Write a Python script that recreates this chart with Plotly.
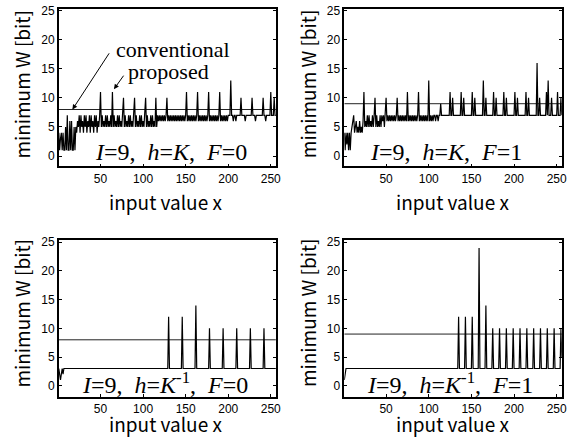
import plotly.graph_objects as go

# ---------------- data ----------------
# Panel (a): I=9, h=K, F=0  -- proposed minimum W for x = 1..256
w_hK_F0 = [
    4, 1, 3, 4, 1, 4, 1, 1, 5, 1, 7, 1, 1, 6, 1, 6,
    1, 1, 5, 1, 5, 4, 6, 5, 7, 4, 7, 5, 6, 4, 7, 5,
    7, 4, 6, 5, 7, 4, 7, 5, 6, 4, 7, 5, 7, 4, 6, 5,
    7, 11, 5, 7, 5, 6, 5, 7, 5, 7, 5, 6, 5, 7, 5, 11,
    5, 7, 5, 6, 5, 7, 5, 7, 5, 6, 5, 7, 10, 5, 7, 5,
    6, 5, 7, 5, 7, 5, 6, 5, 7, 10, 5, 7, 5, 6, 5, 7,
    5, 7, 5, 6, 5, 7, 10, 5, 7, 5, 6, 5, 7, 5, 7, 5,
    6, 5, 10, 5, 7, 6, 7, 6, 7, 6, 7, 6, 7, 6, 7, 10,
    6, 7, 6, 7, 6, 7, 6, 7, 6, 7, 6, 7, 6, 7, 6, 7,
    6, 7, 6, 7, 6, 7, 11, 6, 7, 6, 7, 6, 7, 6, 7, 6,
    7, 6, 7, 11, 6, 7, 6, 7, 6, 7, 6, 7, 6, 7, 6, 7,
    11, 6, 7, 6, 7, 6, 7, 6, 7, 6, 7, 6, 7, 11, 6, 7,
    6, 7, 6, 7, 6, 7, 6, 7, 7, 7, 13, 7, 7, 6, 7, 7,
    6, 7, 7, 7, 7, 7, 10, 7, 7, 7, 7, 6, 7, 7, 7, 7,
    7, 7, 7, 10, 7, 7, 7, 6, 7, 7, 7, 7, 7, 7, 7, 7,
    10, 7, 7, 6, 7, 7, 7, 7, 7, 11, 7, 7, 7, 10, 7, 7,
]

# Panel (b): I=9, h=K, F=1
w_hK_F1 = [
    4, 1, 4, 2, 4, 1, 4, 1, 4, 5, 6, 7, 4, 5, 6, 4,
    5, 4, 6, 4, 5, 4, 6, 11, 5, 6, 5, 7, 5, 7, 5, 6,
    5, 7, 5, 7, 10, 5, 7, 5, 6, 5, 7, 5, 7, 6, 7, 5,
    7, 10, 6, 7, 6, 7, 6, 7, 6, 7, 6, 7, 6, 7, 10, 6,
    7, 6, 7, 6, 7, 6, 7, 6, 7, 6, 11, 6, 7, 6, 7, 6,
    7, 6, 7, 6, 7, 6, 7, 11, 6, 7, 6, 7, 6, 7, 6, 7,
    6, 7, 6, 13, 6, 7, 6, 7, 6, 7, 7, 6, 7, 7, 6, 7,
    7, 9, 7, 7, 7, 7, 7, 7, 7, 7, 7, 7, 11, 7, 7, 10,
    7, 7, 7, 7, 7, 7, 7, 7, 7, 11, 7, 7, 10, 7, 7, 7,
    7, 7, 7, 7, 7, 7, 11, 7, 7, 10, 7, 7, 7, 7, 7, 7,
    7, 7, 7, 13, 7, 7, 10, 7, 7, 7, 7, 7, 7, 7, 7, 11,
    7, 7, 10, 7, 7, 7, 7, 7, 7, 7, 7, 11, 7, 7, 10, 7,
    7, 7, 7, 7, 7, 7, 7, 7, 11, 7, 7, 10, 7, 7, 7, 7,
    7, 7, 7, 7, 7, 11, 7, 7, 10, 7, 7, 7, 7, 7, 7, 7,
    7, 7, 16, 7, 7, 10, 7, 7, 7, 7, 7, 7, 7, 11, 7, 13,
    7, 7, 7, 10, 7, 7, 7, 7, 7, 7, 11, 7, 7, 7, 10, 7,
]

# Panel (c): I=9, h=K^-1, F=0  (breakpoints of the polyline)
x_hKi_F0 = [1, 2, 3, 4, 5, 6, 7,
            129, 130, 131, 145, 146, 147, 161, 162, 163, 177, 178, 179,
            193, 194, 195, 209, 210, 211, 225, 226, 227, 241, 242, 243, 256]
w_hKi_F0 = [3, 2, 1, 2, 3, 2, 3,
            3, 12, 3, 3, 12, 3, 3, 14, 3, 3, 10, 3,
            3, 10, 3, 3, 10, 3, 3, 10, 3, 3, 10, 3, 3]

# Panel (d): I=9, h=K^-1, F=1  (breakpoints of the polyline)
x_hKi_F1 = [1, 2, 3,
            134, 135, 136, 142, 143, 144, 150, 151, 152, 158, 159, 160,
            166, 167, 168, 174, 175, 176, 182, 183, 184, 190, 191, 192,
            198, 199, 200, 206, 207, 208, 214, 215, 216, 222, 223, 224,
            230, 231, 232, 238, 239, 240, 246, 247, 248, 254, 255, 256]
w_hKi_F1 = [1, 2, 3,
            3, 12, 3, 3, 12, 3, 3, 12, 3, 3, 24, 3,
            3, 14, 3, 3, 10, 3, 3, 10, 3, 3, 10, 3,
            3, 10, 3, 3, 10, 3, 3, 10, 3, 3, 10, 3,
            3, 10, 3, 3, 10, 3, 3, 10, 3, 3, 10, 5]

# conventional (constant) minimum W
conv_F0 = 8
conv_F1 = 9

x_full = list(range(1, 257))
x_range = [1, 256]
x_ticks = [50, 100, 150, 200, 250]
y_ticks = [0, 5, 10, 15, 20, 25]

panel_labels = [
    "<i>I</i>=9,\u00a0\u00a0<i>h</i>=<i>K</i>,\u00a0\u00a0<i>F</i>=0",
    "<i>I</i>=9,\u00a0\u00a0<i>h</i>=<i>K</i>,\u00a0\u00a0<i>F</i>=1",
    "<i>I</i>=9,\u00a0\u00a0<i>h</i>=<i>K</i><sup>-1</sup>,\u00a0\u00a0<i>F</i>=0",
    "<i>I</i>=9,\u00a0\u00a0<i>h</i>=<i>K</i><sup>-1</sup>,\u00a0\u00a0<i>F</i>=1",
]

W, H = 579, 448

# ---------------- figure ----------------
fig = go.Figure()

panels = [
    (x_full, w_hK_F0, conv_F0, "x", "y"),
    (x_full, w_hK_F1, conv_F1, "x2", "y2"),
    (x_hKi_F0, w_hKi_F0, conv_F0, "x3", "y3"),
    (x_hKi_F1, w_hKi_F1, conv_F1, "x4", "y4"),
]
for xs, ys, conv, xa, ya in panels:
    fig.add_trace(go.Scatter(x=x_range, y=[conv, conv], mode="lines",
                             line=dict(color="#222222", width=1),
                             xaxis=xa, yaxis=ya, showlegend=False, hoverinfo="skip"))
    fig.add_trace(go.Scatter(x=xs, y=ys, mode="lines",
                             line=dict(color="black", width=1.2),
                             xaxis=xa, yaxis=ya, showlegend=False))

px_x = lambda p: p / W
px_y = lambda p: 1 - p / H

xdom = [[px_x(59.3), px_x(278.3)], [px_x(347.3), px_x(566.7)]]
ydom = [[px_y(163.3), px_y(4)], [px_y(396.3), px_y(238)]]
yr = [[-1.8, 25.3], [-1.95, 25.34]]

tickfont = dict(family="Liberation Sans, Arial, sans-serif", size=12, color="black")
layout = dict(width=W, height=H, margin=dict(l=0, r=0, t=0, b=0),
              paper_bgcolor="white", plot_bgcolor="white", showlegend=False)

for i in range(4):
    row, col = divmod(i, 2)
    sfx = "" if i == 0 else str(i + 1)
    layout["xaxis" + sfx] = dict(
        domain=xdom[col], anchor="y" + sfx, range=x_range, tickvals=x_ticks,
        ticks="inside", ticklen=3, tickcolor="black", showline=True,
        linecolor="black", linewidth=1.5, mirror=True, showgrid=False,
        zeroline=False, tickfont=tickfont)
    layout["yaxis" + sfx] = dict(
        domain=ydom[row], anchor="x" + sfx, range=yr[row], tickvals=y_ticks,
        ticks="inside", ticklen=3, tickcolor="black", showline=True,
        linecolor="black", linewidth=1.5, mirror="ticks", showgrid=False,
        zeroline=False, tickfont=tickfont)

fig.update_layout(**layout)

title_font = dict(family="Noto Sans CJK JP, sans-serif", size=19, color="black")
label_font = dict(family="Liberation Serif, Times New Roman, serif", size=24, color="black")
note_font = dict(family="Liberation Serif, Times New Roman, serif", size=22, color="black")

ann = []
ycent = [80, 311.5]
xt_y = [199, 423]
xt_x = [167, 456]
lab_pos = [(172, 149), (450, 149), (166.7, 382), (454, 382)]
for row in range(2):
    for col in range(2):
        ann.append(dict(text="minimum W [bit]", xref="paper", yref="paper",
                        x=px_x(21.7 + col * 288), y=px_y(ycent[row]), textangle=-90,
                        showarrow=False, xanchor="center", yanchor="middle", font=title_font))
        ann.append(dict(text="input value x", xref="paper", yref="paper",
                        x=px_x(xt_x[col]), y=px_y(xt_y[row]),
                        showarrow=False, xanchor="center", yanchor="middle", font=title_font))
for i, (lx, ly) in enumerate(lab_pos):
    ann.append(dict(text=panel_labels[i], xref="paper", yref="paper",
                    x=px_x(lx), y=px_y(ly), showarrow=False,
                    xanchor="center", yanchor="middle", font=label_font))

ann.append(dict(text="conventional", xref="paper", yref="paper", x=px_x(174.5), y=px_y(45),
                showarrow=False, xanchor="center", yanchor="middle", font=note_font))
ann.append(dict(text="proposed", xref="paper", yref="paper", x=px_x(170), y=px_y(67),
                showarrow=False, xanchor="center", yanchor="middle", font=note_font))
ann.append(dict(text="", xref="x", yref="y", x=17, y=8, ax=37.7, ay=-57.7,
                showarrow=True, arrowhead=2, arrowsize=1, arrowwidth=1, arrowcolor="black",
                standoff=0))
ann.append(dict(text="", xref="x", yref="y", x=65.8, y=11.5, ax=10.7, ay=-15,
                showarrow=True, arrowhead=2, arrowsize=1, arrowwidth=1, arrowcolor="black",
                standoff=0))
fig.update_layout(annotations=ann)

fig.write_html("out.html", config={"displayModeBar": False},
               post_script="document.body.style.margin='0';document.body.style.padding='0';")
